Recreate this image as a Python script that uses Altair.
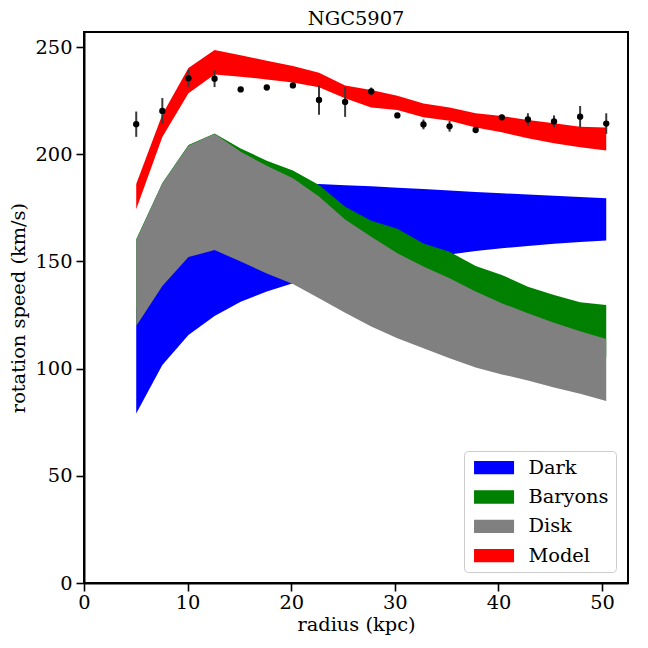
import altair as alt
import pandas as pd

radius = [5.04, 7.56, 10.08, 12.6, 15.12, 17.64, 20.16, 22.68, 25.2, 27.72,
          30.24, 32.76, 35.28, 37.8, 40.32, 42.84, 45.36, 47.88, 50.4]

v_obs = [214.0, 220.2, 235.4, 235.2, 230.2, 231.1, 232.1, 225.3, 224.4, 229.3,
         218.1, 213.9, 213.0, 211.3, 217.2, 216.2, 215.3, 217.5, 214.3]
v_err = [5.9, 6.0, 3.9, 3.9, 1.2, 1.0, 1.2, 6.9, 7.0, 1.8,
         1.0, 2.3, 2.5, 1.0, 1.2, 2.9, 2.8, 5.0, 4.8]

dark_lo = [79.1, 101.7, 115.7, 124.5, 131.2, 136.0, 139.8, 142.5, 145.0, 147.4,
           149.6, 151.5, 153.2, 154.8, 156.1, 157.2, 158.2, 159.0, 159.7]
dark_hi = [128.0, 150.0, 165.0, 174.0, 180.0, 183.5, 185.5, 186.1, 185.5, 185.0,
           184.4, 183.8, 183.1, 182.4, 181.8, 181.2, 180.6, 180.0, 179.4]

bary_lo = [120.3, 138.9, 152.4, 155.6, 152.0, 147.6, 144.3, 139.9, 134.0, 129.5,
           129.1, 123.5, 121.1, 116.0, 114.4, 110.4, 107.8, 105.7, 105.3]
bary_hi = [160.3, 186.6, 204.3, 209.7, 202.7, 197.0, 192.4, 185.6, 175.5, 169.0,
           165.2, 158.3, 154.5, 147.8, 143.7, 138.2, 134.3, 131.0, 129.7]

disk_lo = [119.9, 138.5, 152.0, 155.3, 149.9, 144.4, 139.5, 132.8, 126.0, 119.6,
           114.1, 109.5, 104.8, 100.5, 97.3, 94.4, 91.2, 88.3, 84.9]
disk_hi = [160.0, 186.3, 204.0, 209.5, 201.1, 194.6, 188.8, 180.3, 169.5, 161.5,
           153.8, 147.6, 142.1, 136.0, 130.5, 125.8, 121.4, 117.4, 113.8]

model_lo = [174.3, 208.0, 228.4, 237.2, 236.1, 234.9, 233.5, 231.2, 226.1, 221.8,
            220.6, 217.2, 215.6, 212.5, 210.2, 207.4, 205.1, 203.2, 201.7]
model_hi = [186.1, 218.5, 240.2, 248.6, 246.1, 243.6, 241.1, 238.0, 232.0, 229.9,
            227.3, 223.7, 221.8, 219.1, 217.8, 216.0, 214.4, 212.8, 212.4]

names = ["Dark", "Baryons", "Disk", "Model"]
colors = ["#0000ff", "#008000", "#808080", "#ff0000"]
bands = [dark_lo, bary_lo, disk_lo, model_lo]
bands_hi = [dark_hi, bary_hi, disk_hi, model_hi]

FONT = "DejaVu Serif"
FS = 19.4

xscale = alt.Scale(domain=[0, 52.5], nice=False)
yscale = alt.Scale(domain=[0, 257], nice=False)
cscale = alt.Scale(domain=names, range=colors)

layers = []
for name, lo, hi in zip(names, bands, bands_hi):
    df = pd.DataFrame({"r": radius, "lo": lo, "hi": hi, "comp": name})
    layers.append(
        alt.Chart(df).mark_area(opacity=1.0, interpolate="linear").encode(
            x=alt.X("r:Q", scale=xscale,
                    axis=alt.Axis(values=[0, 10, 20, 30, 40, 50], title="radius (kpc)",
                                  labelFlush=False, labelPadding=2, titlePadding=4)),
            y=alt.Y("lo:Q", scale=yscale,
                    axis=alt.Axis(values=[0, 50, 100, 150, 200, 250], title="rotation speed (km/s)",
                                  labelFlush=False, labelPadding=4, titlePadding=6)),
            y2="hi:Q",
            color=alt.Color("comp:N", scale=cscale, sort=names,
                            legend=alt.Legend(title=None, orient="none", legendX=380, legendY=419,
                                              symbolType="M-1,-1L5,-1L5,1L-1,1Z",
                                              symbolSize=178, symbolStrokeWidth=0,
                                              labelFont=FONT, labelFontSize=FS, labelColor="black",
                                              labelFontWeight="normal",
                                              labelOffset=38, rowPadding=8.3, padding=7,
                                              strokeColor="#cccccc", cornerRadius=4,
                                              fillColor="white")),
        )
    )

obs = pd.DataFrame({"r": radius, "v": v_obs, "e": v_err})
obs["vlo"] = obs["v"] - obs["e"]
obs["vhi"] = obs["v"] + obs["e"]

errbars = alt.Chart(obs).mark_rule(color="#3a3a3a", strokeWidth=2).encode(
    x=alt.X("r:Q", scale=xscale),
    y=alt.Y("vlo:Q", scale=yscale),
    y2="vhi:Q",
)
points = alt.Chart(obs).mark_point(filled=True, color="black", size=40, opacity=1).encode(
    x=alt.X("r:Q", scale=xscale),
    y=alt.Y("v:Q", scale=yscale),
)

chart = alt.layer(*layers, errbars, points).properties(
    width=544, height=551,
    title=alt.Title("NGC5907", font=FONT, fontSize=FS, fontWeight="normal", color="black", offset=3),
    autosize=alt.AutoSizeParams(type="none"),
    padding={"left": 76, "top": 24, "right": 12, "bottom": 57},
).configure(
    font=FONT
).configure_view(
    stroke="black", strokeWidth=2
).configure_axis(
    grid=False, domainColor="black", domainWidth=2, tickColor="black", tickWidth=1.6,
    tickSize=8, labelFont=FONT, labelFontSize=FS, labelColor="black", labelFontWeight="normal",
    titleFont=FONT, titleFontSize=FS, titleFontWeight="normal", titleColor="black",
)

chart.save("out.html", embed_options={"renderer": "svg", "actions": False})
